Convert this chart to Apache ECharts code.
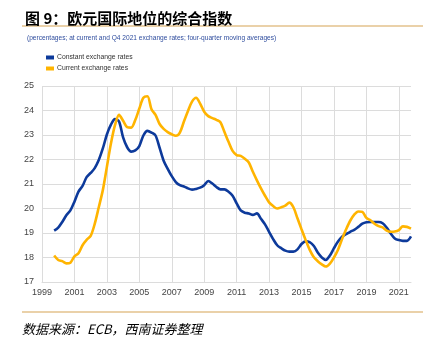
<!DOCTYPE html>
<html>
<head>
<meta charset="utf-8">
<script src="https://cdn.jsdelivr.net/npm/echarts@6/dist/echarts.min.js"></script>
<style>html,body{margin:0;padding:0;background:#fff;}#c{width:434px;height:351px;}</style>
</head>
<body>
<div id="c"></div>
<script>
// Quarterly categories 1999Q1 .. 2021Q4
const firstYear = 1999, lastYear = 2021;
const categories = [];
for (let y = firstYear; y <= lastYear; y++) for (let q = 1; q <= 4; q++) categories.push(y + 'Q' + q);

const yTicks = [17, 18, 19, 20, 21, 22, 23, 24, 25];
const seriesNames = ['Constant exchange rates', 'Current exchange rates'];

// Four-quarter moving averages, 1999Q1..2021Q4 (no data before 1999Q4)
const constantRates = [null, null, null, 19.10,
  19.22, 19.45, 19.72, 19.92,
  20.28, 20.69, 20.92, 21.28,
  21.45, 21.65, 21.98, 22.45,
  23.02, 23.42, 23.65, 23.55,
  22.90, 22.50, 22.32, 22.37,
  22.55, 22.98, 23.17, 23.10,
  22.98, 22.48, 21.95, 21.62,
  21.32, 21.08, 20.95, 20.90,
  20.82, 20.77, 20.80, 20.85,
  20.95, 21.12, 21.02, 20.88,
  20.78, 20.78, 20.68, 20.52,
  20.21, 19.92, 19.83, 19.80,
  19.74, 19.80, 19.58, 19.35,
  19.05, 18.75, 18.50, 18.38,
  18.28, 18.24, 18.24, 18.33,
  18.55, 18.66, 18.63, 18.48,
  18.20, 18.00, 17.90, 18.08,
  18.38, 18.65, 18.85, 18.95,
  19.05, 19.13, 19.25, 19.38,
  19.44, 19.45, 19.45, 19.45,
  19.40, 19.22, 18.98, 18.78,
  18.71, 18.68, 18.68, 18.86];

const currentRates = [null, null, null, 18.08,
  17.90, 17.85, 17.76, 17.79,
  18.05, 18.17, 18.50, 18.72,
  18.88, 19.37, 20.05, 20.75,
  21.70, 22.65, 23.40, 23.82,
  23.58, 23.32, 23.30, 23.61,
  24.08, 24.52, 24.58, 24.05,
  23.82, 23.45, 23.25, 23.12,
  23.03, 22.97, 23.10, 23.55,
  23.98, 24.36, 24.52, 24.28,
  23.95, 23.77, 23.69, 23.62,
  23.52, 23.12, 22.72, 22.35,
  22.18, 22.15, 22.03, 21.88,
  21.50, 21.15, 20.82, 20.52,
  20.25, 20.10, 20.00, 20.05,
  20.12, 20.24, 20.05, 19.60,
  19.15, 18.72, 18.32, 18.02,
  17.85, 17.72, 17.63, 17.75,
  18.00, 18.32, 18.75, 19.15,
  19.50, 19.75, 19.88, 19.86,
  19.62, 19.52, 19.38, 19.28,
  19.23, 19.10, 19.05, 19.06,
  19.12, 19.27, 19.25, 19.18];

const chart = echarts.init(document.getElementById('c'), null, {renderer: 'canvas'});
const gridColor = '#dcdcdc';
const font = 'Liberation Sans, Arial, sans-serif';
chart.setOption({
  animation: false,
  backgroundColor: '#fff',
  title: {
    text: '图 9：欧元国际地位的综合指数',
    left: 20, top: 6,
    textStyle: {fontSize: 15, fontWeight: 'bold', color: '#000', fontFamily: 'Noto Sans CJK SC'}
  },
  graphic: [
    {type: 'line', shape: {x1: 22, y1: 26, x2: 423, y2: 26}, style: {stroke: '#d6a455', lineWidth: 1.2}},
    {type: 'line', shape: {x1: 22, y1: 312, x2: 423, y2: 312}, style: {stroke: '#d6a455', lineWidth: 1.2}},
    {type: 'text', left: 27, top: 35, style: {text: '(percentages; at current and Q4 2021 exchange rates; four-quarter moving averages)', fill: '#2f4d9e', font: '6.6px ' + font}},
    {type: 'text', left: 22, top: 323, style: {text: '数据来源：ECB，西南证券整理', fill: '#000', font: 'italic 13px "Noto Sans CJK SC"'}}
  ],
  legend: {
    orient: 'vertical', left: 41, top: 49,
    itemWidth: 8, itemHeight: 4, itemGap: 4,
    icon: 'rect',
    textStyle: {fontSize: 6.8, color: '#333', fontFamily: font, padding: [0, 0, 0, -2]},
    data: seriesNames
  },
  grid: {left: 42, right: 23, top: 86, bottom: 69, containLabel: false},
  xAxis: {
    type: 'category', data: categories, boundaryGap: false,
    axisLine: {show: true, lineStyle: {color: gridColor}},
    axisTick: {show: false},
    axisLabel: {interval: 7, color: '#444', fontSize: 9, fontFamily: font, margin: 6,
      formatter: v => v.slice(0, 4)},
    splitLine: {show: true, interval: 7, lineStyle: {color: gridColor, width: 1}}
  },
  yAxis: {
    type: 'value', min: yTicks[0], max: yTicks[yTicks.length - 1], interval: 1,
    axisLine: {show: false}, axisTick: {show: false},
    axisLabel: {color: '#444', fontSize: 9, fontFamily: font, margin: 8},
    splitLine: {lineStyle: {color: gridColor, width: 1}}
  },
  series: [
    {name: seriesNames[0], type: 'line', data: constantRates, showSymbol: false, smooth: 0.3,
      lineStyle: {width: 2.6, color: '#0d3a9b'}, itemStyle: {color: '#0d3a9b'}},
    {name: seriesNames[1], type: 'line', data: currentRates, showSymbol: false, smooth: 0.3,
      lineStyle: {width: 2.6, color: '#ffb400'}, itemStyle: {color: '#ffb400'}}
  ]
});
</script>
</body>
</html>
